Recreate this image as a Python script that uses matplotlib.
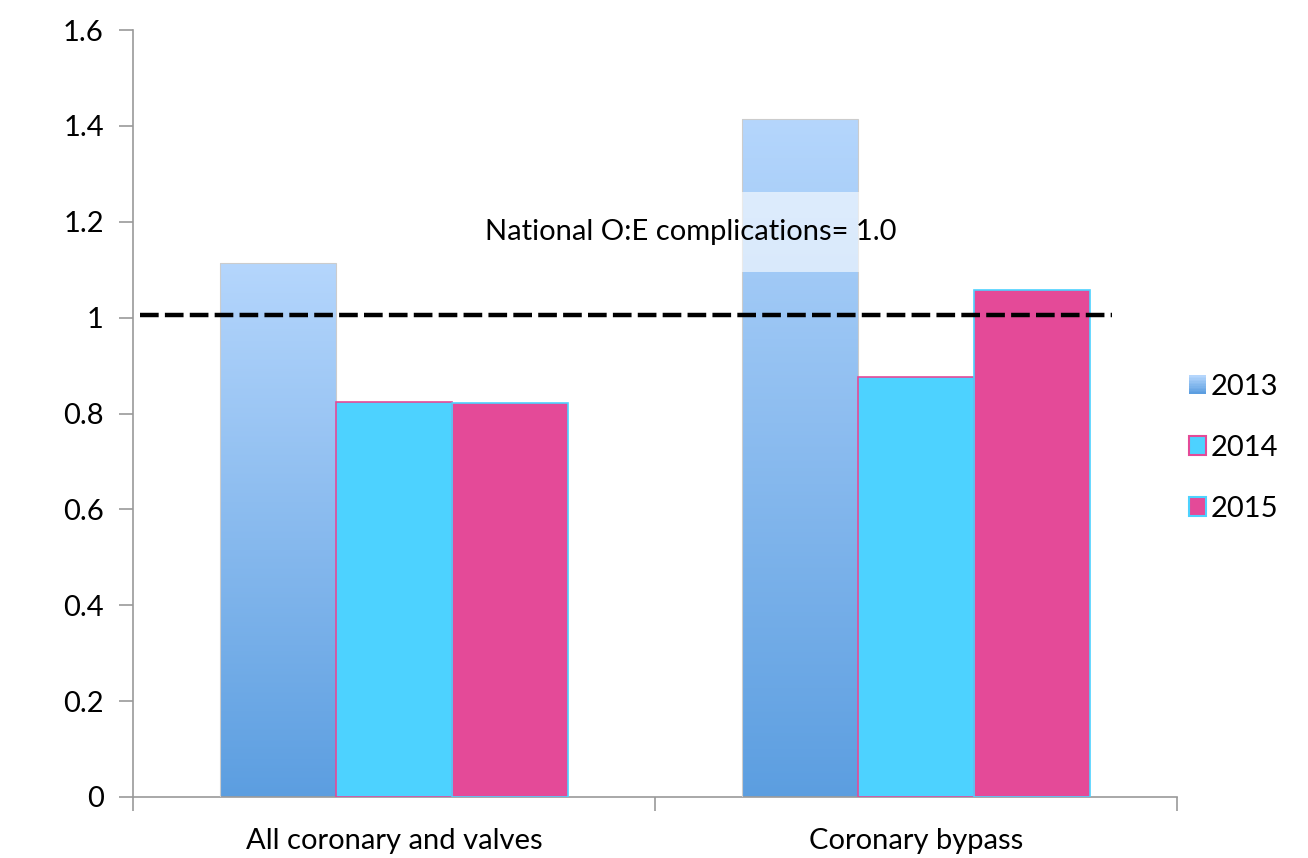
import numpy as np
import matplotlib
matplotlib.use("Agg")
import matplotlib.pyplot as plt
from matplotlib.patches import Rectangle, Patch
from matplotlib.legend_handler import HandlerPatch
from matplotlib.colors import LinearSegmentedColormap

plt.rcParams['font.family'] = ['Lato', 'DejaVu Sans']

categories = ["All coronary and valves", "Coronary bypass"]
years = ["2013", "2014", "2015"]
vals_2013 = [1.115, 1.415]
vals_2014 = [0.825, 0.877]
vals_2015 = [0.822, 1.057]
national = 1.005
note = "National O:E complications= 1.0"

light_blue = (0.71, 0.84, 0.99)
dark_blue = (0.36, 0.62, 0.88)
cyan = "#4dd2ff"
pink = "#e44a98"
grad = LinearSegmentedColormap.from_list("g", [dark_blue, light_blue])

fig = plt.figure(figsize=(13.08, 8.58), dpi=100)
ax = fig.add_axes([0.1017, 0.0711, 0.7982, 0.8939])

x = np.arange(len(categories))
w = 0.222

# 2013 bars with vertical gradient
bars13 = ax.bar(x - w, vals_2013, w, color="none", edgecolor="#cccccc", linewidth=0.8, zorder=3)
for b in bars13:
    bx, by = b.get_x(), b.get_y()
    bw, bh = b.get_width(), b.get_height()
    im = ax.imshow(np.linspace(0, 1, 256).reshape(-1, 1), cmap=grad, origin="lower",
                   extent=[bx, bx + bw, by, by + bh], aspect="auto", zorder=2)
    im.set_clip_path(Rectangle((bx, by), bw, bh, transform=ax.transData))

ax.bar(x, vals_2014, w, color=cyan, edgecolor=pink, linewidth=1.2, zorder=3)
ax.bar(x + w, vals_2015, w, color=pink, edgecolor=cyan, linewidth=1.2, zorder=3)

ax.axhline(national, xmin=0.007, xmax=0.938, color="black", lw=3.2,
           dashes=(4.2, 1.4), zorder=4)

ax.text(0.569, 1.178, note, fontsize=21, ha="center", va="center", zorder=5,
        bbox=dict(boxstyle="square,pad=0.92", facecolor="white", edgecolor="none", alpha=0.6))

ax.set_xlim(-0.5, 1.5)
ax.set_ylim(0, 1.6)
ax.set_yticks(np.arange(0, 1.61, 0.2))
ax.set_yticklabels(["0", "0.2", "0.4", "0.6", "0.8", "1", "1.2", "1.4", "1.6"])
ax.set_xticks(x)
ax.set_xticklabels(categories)
ax.set_xticks([-0.5, 0.5, 1.5], minor=True)
ax.tick_params(axis="x", which="major", length=0, pad=22, labelsize=21)
ax.tick_params(axis="x", which="minor", length=10, color="#999999", width=1.2)
ax.tick_params(axis="y", length=10, color="#999999", width=1.2, pad=11, labelsize=21)
for s in ["top", "right"]:
    ax.spines[s].set_visible(False)
for s in ["left", "bottom"]:
    ax.spines[s].set_color("#999999")
    ax.spines[s].set_linewidth(1.2)


class GradHandler(HandlerPatch):
    def create_artists(self, legend, orig_handle, xdescent, ydescent, width, height, fontsize, trans):
        arts = []
        n = 12
        for i in range(n):
            c = grad(1 - i / (n - 1))
            r = Rectangle((-xdescent, -ydescent + height * (n - 1 - i) / n), width, height / n + 0.2,
                          facecolor=c, edgecolor="none", transform=trans)
            arts.append(r)
        return arts


h13 = Patch(facecolor=light_blue)
h14 = Patch(facecolor=cyan, edgecolor=pink, linewidth=1.5)
h15 = Patch(facecolor=pink, edgecolor=cyan, linewidth=1.5)
ax.legend([h13, h14, h15], years, loc="center left", bbox_to_anchor=(1.0, 0.455),
          frameon=False, fontsize=21, handlelength=0.6, handleheight=0.6,
          handletextpad=0.15, labelspacing=1.2, borderaxespad=0.0,
          handler_map={h13: GradHandler()})

fig.savefig("out.png", dpi=100)
